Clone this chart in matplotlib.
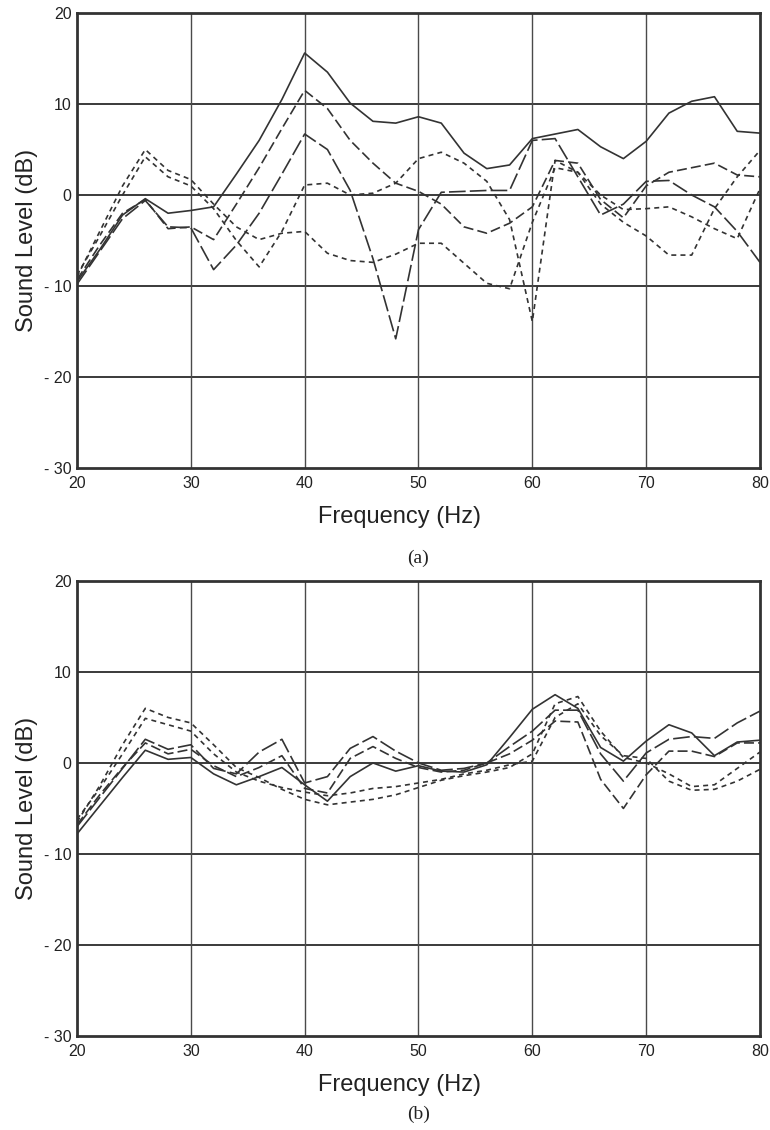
import matplotlib
matplotlib.use("Agg")
import matplotlib.pyplot as plt

plt.rcParams['font.family'] = ['Liberation Sans', 'DejaVu Sans']

# Frequency points (Hz)
freq = [20, 22, 24, 26, 28, 30, 32, 34, 36, 38, 40, 42, 44, 46, 48, 50,
        52, 54, 56, 58, 60, 62, 64, 66, 68, 70, 72, 74, 76, 78, 80]

# Panel (a) sound levels (dB)
a_solid = [-9.5, -6.0, -2.2, -0.4, -2.0, -1.7, -1.3, 2.3, 6.0, 10.5, 15.6, 13.5, 10.1, 8.1, 7.9, 8.6,
           7.9, 4.6, 2.9, 3.3, 6.2, 6.7, 7.2, 5.3, 4.0, 5.9, 9.0, 10.3, 10.8, 7.0, 6.8]
a_dash = [-9.3, -5.5, -2.0, -0.5, -3.7, -3.5, -4.9, -1.0, 3.0, 7.3, 11.5, 9.5, 6.0, 3.5, 1.3, 0.4,
          -1.0, -3.5, -4.2, -3.1, -1.3, 3.8, 3.5, -0.5, -2.5, 1.0, 2.5, 3.0, 3.5, 2.2, 2.0]
a_long = [-9.8, -6.2, -2.6, -0.6, -3.5, -3.6, -8.2, -5.5, -2.0, 2.3, 6.7, 5.0, 0.5, -7.0, -15.8, -3.8,
          0.3, 0.4, 0.5, 0.5, 6.0, 6.2, 2.0, -2.2, -1.0, 1.5, 1.6, 0.0, -1.3, -4.0, -7.4]
a_short1 = [-9.0, -4.0, 1.0, 5.0, 2.7, 1.7, -1.0, -3.5, -4.9, -4.2, -4.0, -6.4, -7.2, -7.4, -6.5, -5.3,
            -5.3, -7.5, -9.7, -10.3, -3.0, 3.0, 2.5, -1.0, -3.0, -4.5, -6.6, -6.6, -1.5, 2.0, 4.9]
a_short2 = [-8.8, -4.5, 0.0, 4.2, 2.0, 1.0, -1.5, -5.0, -7.9, -4.0, 1.1, 1.3, 0.0, 0.2, 1.3, 4.0,
            4.7, 3.5, 1.5, -2.7, -13.9, 3.8, 2.5, 0.0, -1.6, -1.5, -1.3, -2.4, -3.7, -4.8, 0.7]

# Panel (b) sound levels (dB)
b_solid = [-7.8, -4.7, -1.6, 1.4, 0.4, 0.6, -1.2, -2.4, -1.5, -0.5, -2.4, -4.2, -1.5, 0.0, -0.9, -0.3,
           -0.9, -1.0, -0.2, 2.8, 5.9, 7.5, 6.0, 1.7, 0.2, 2.4, 4.2, 3.3, 0.8, 2.3, 2.5]
b_long = [-7.0, -3.8, -0.6, 2.6, 1.5, 2.0, -0.6, -1.2, 1.2, 2.6, -2.2, -1.5, 1.6, 2.9, 1.3, 0.0,
          -0.8, -0.6, 0.0, 1.8, 3.5, 5.8, 5.8, 1.0, -2.0, 1.1, 2.6, 2.9, 2.7, 4.4, 5.7]
b_dash = [-6.8, -3.5, -0.5, 2.2, 1.0, 1.5, -0.3, -1.5, -0.5, 0.8, -2.8, -3.3, 0.5, 1.8, 0.5, -0.5,
          -1.0, -0.8, 0.0, 1.0, 2.5, 4.6, 4.5, -1.8, -5.0, -1.3, 1.3, 1.3, 0.7, 2.2, 2.2]
b_short1 = [-6.5, -2.5, 2.0, 6.0, 5.0, 4.4, 2.0, -0.5, -1.6, -2.9, -4.0, -4.6, -4.3, -4.0, -3.5, -2.7,
            -1.9, -1.4, -1.0, -0.5, 1.0, 6.5, 7.3, 3.5, 0.6, 0.0, -1.2, -2.6, -2.4, -0.6, 1.2]
b_short2 = [-6.2, -2.8, 1.0, 4.9, 4.2, 3.5, 1.0, -1.0, -2.0, -2.7, -3.2, -3.6, -3.3, -2.8, -2.6, -2.2,
            -1.8, -1.2, -0.8, -0.2, 0.2, 5.0, 6.5, 3.0, 0.8, 0.5, -2.0, -3.0, -2.9, -2.0, -0.7]

xticks = [20, 30, 40, 50, 60, 70, 80]
yticks = [20, 10, 0, -10, -20, -30]
ytick_labels = ["20", "10", "0", "- 10", "- 20", "- 30"]

line_color = "#333333"
styles = {
    "solid": "-",
    "long": (0, (10, 2.5)),
    "dash": (0, (6, 2.5)),
    "short": (0, (3, 2.5)),
}

fig = plt.figure(figsize=(7.7, 11.3), dpi=100)
ax_a = fig.add_axes([0.1000, 0.5858, 0.8870, 0.4027])
ax_b = fig.add_axes([0.1000, 0.0832, 0.8870, 0.4027])

panels = [
    (ax_a, [(a_solid, "solid"), (a_dash, "dash"), (a_long, "long"),
            (a_short1, "short"), (a_short2, "short")], "(a)", -0.198),
    (ax_b, [(b_solid, "solid"), (b_long, "long"), (b_dash, "dash"),
            (b_short1, "short"), (b_short2, "short")], "(b)", -0.172),
]

for ax, series, tag, tag_y in panels:
    # grid first, drawn below the data lines
    for y in yticks[1:-1]:
        ax.axhline(y, color="#3a3a3a", lw=1.4, zorder=1)
    for x in xticks[1:-1]:
        ax.axvline(x, color="#4a4a4a", lw=1.0, zorder=1)

    for vals, st in series:
        ax.plot(freq, vals, color=line_color, lw=1.2, linestyle=styles[st], zorder=3)

    ax.set_xlim(20, 80)
    ax.set_ylim(-30, 20)
    ax.set_xticks(xticks)
    ax.set_yticks(yticks)
    ax.set_yticklabels(ytick_labels)
    ax.tick_params(length=0, labelsize=11.5, colors="#222222")
    ax.tick_params(axis="x", pad=6)
    ax.tick_params(axis="y", pad=4)
    for sp in ax.spines.values():
        sp.set_linewidth(2.0)
        sp.set_color("#333333")
        sp.set_zorder(4)
    ax.set_xlabel("Frequency (Hz)", fontsize=17, color="#222222")
    ax.xaxis.set_label_coords(0.472, -0.108)
    ax.xaxis.label.set_va("center")
    ax.set_ylabel("Sound Level (dB)", fontsize=17, color="#222222")
    ax.yaxis.set_label_coords(-0.073, 0.5)
    ax.yaxis.label.set_va("center")
    ax.text(0.5, tag_y, tag, transform=ax.transAxes, ha="center", va="center",
            fontsize=14, family=["Liberation Serif", "DejaVu Serif"], color="#222222")

fig.savefig("out.png", dpi=100)
plt.close(fig)
